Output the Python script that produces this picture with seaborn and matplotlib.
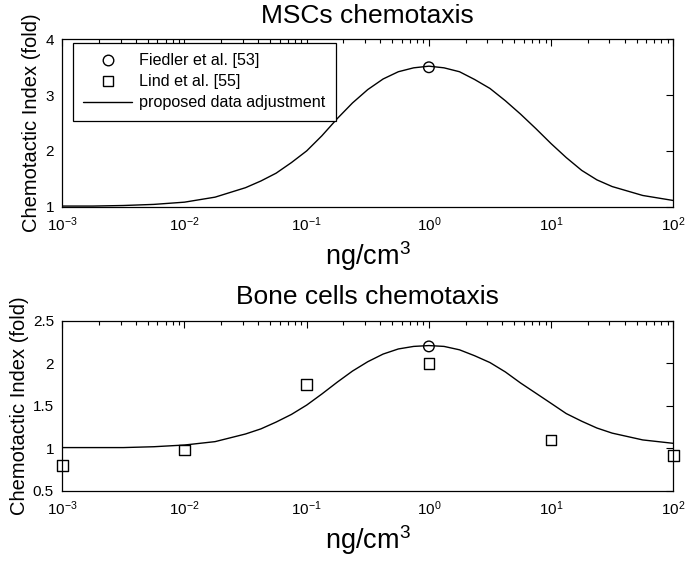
import matplotlib
matplotlib.use("Agg")
import matplotlib.pyplot as plt
import seaborn as sns
from matplotlib.lines import Line2D
from matplotlib.ticker import FormatStrFormatter, LogLocator

conc = [0.001, 0.00178, 0.00316, 0.00562, 0.01, 0.0178, 0.0316,
        0.0422, 0.0562, 0.075, 0.1, 0.133, 0.178, 0.237, 0.316,
        0.422, 0.562, 0.75, 1, 1.33, 1.78, 2.37, 3.16, 4.22,
        5.62, 7.5, 10, 13.3, 17.8, 23.7, 31.6, 56.2, 100]

# proposed data adjustment (fitted curves)
msc_fit = [1.01, 1.01, 1.02, 1.04, 1.08, 1.17, 1.34,
           1.46, 1.60, 1.79, 2.00, 2.27, 2.58, 2.86, 3.10,
           3.29, 3.42, 3.49, 3.52, 3.49, 3.42, 3.28, 3.12, 2.90,
           2.66, 2.40, 2.13, 1.88, 1.65, 1.48, 1.36, 1.20, 1.11]
bone_fit = [1.01, 1.01, 1.01, 1.02, 1.04, 1.08, 1.17,
            1.23, 1.31, 1.40, 1.51, 1.64, 1.78, 1.91, 2.02,
            2.11, 2.17, 2.20, 2.21, 2.20, 2.16, 2.09, 2.01, 1.90,
            1.77, 1.65, 1.53, 1.41, 1.32, 1.24, 1.18, 1.10, 1.06]

# measured points
fiedler_x = [1]
fiedler_msc = [3.5]
fiedler_bone = [2.2]
lind_x = [0.001, 0.01, 0.1, 1, 10, 100]
lind_bone = [0.8, 0.98, 1.75, 2.0, 1.1, 0.92]

titles = ["MSCs chemotaxis", "Bone cells chemotaxis"]
yticks_top = [1, 2, 3, 4]
yticks_bot = [0.5, 1, 1.5, 2, 2.5]
legend_labels = ["Fiedler et al. [53]", "Lind et al. [55]", "proposed data adjustment"]

sns.set_style("white")
plt.rcParams['font.family'] = ['Liberation Sans', 'DejaVu Sans']
plt.rcParams['mathtext.default'] = 'regular'
plt.rcParams['axes.unicode_minus'] = False
plt.rcParams['text.color'] = 'black'
plt.rcParams['axes.labelcolor'] = 'black'

fig = plt.figure(figsize=(6.92, 5.63), dpi=100)
ax1 = fig.add_axes([0.0900, 0.633, 0.883, 0.297])
ax2 = fig.add_axes([0.0900, 0.128, 0.883, 0.302])

def style_axes(ax, title, yticks):
    ax.set_xscale('log')
    ax.set_xlim(1e-3, 1e2)
    ax.set_ylim(yticks[0], yticks[-1])
    ax.set_yticks(yticks)
    ax.yaxis.set_major_formatter(FormatStrFormatter('%g'))
    ax.xaxis.set_major_locator(LogLocator(base=10, numticks=10))
    ax.xaxis.set_minor_locator(LogLocator(base=10, subs=range(2, 10), numticks=10))
    ax.tick_params(which='both', direction='in', top=True, right=True,
                   colors='black', labelsize=11)
    ax.tick_params(which='major', length=5, width=0.8, pad=6)
    ax.tick_params(which='minor', length=3, width=0.8)
    for s in ax.spines.values():
        s.set_color('black')
        s.set_linewidth(0.9)
    ax.set_title(title, fontsize=19, pad=12, color='black')
    ax.set_xlabel(r'$\mathdefault{ng/cm^3}$', fontsize=19.5, labelpad=4)
    ax.set_ylabel('Chemotactic Index (fold)', fontsize=14.5, labelpad=3)

# top panel
sns.lineplot(x=conc, y=msc_fit, ax=ax1, color='black', linewidth=1)
sns.scatterplot(x=fiedler_x, y=fiedler_msc, ax=ax1, marker='o', s=58,
                facecolors='none', edgecolor='black', linewidth=1, zorder=3)
style_axes(ax1, titles[0], yticks_top)

handles = [
    Line2D([], [], marker='o', ls='', mfc='none', mec='black', ms=7.6, mew=1),
    Line2D([], [], marker='s', ls='', mfc='none', mec='black', ms=7.3, mew=1),
    Line2D([], [], color='black', lw=1),
]
leg = ax1.legend(handles, legend_labels, loc='upper left', bbox_to_anchor=(0.0175, 0.979),
                 borderaxespad=0, fontsize=11.6, handlelength=3.0, handletextpad=0.45,
                 labelspacing=0.37, borderpad=0.65, fancybox=False, framealpha=1,
                 edgecolor='black', numpoints=1)
leg.get_frame().set_linewidth(0.9)

# bottom panel
sns.lineplot(x=conc, y=bone_fit, ax=ax2, color='black', linewidth=1)
sns.scatterplot(x=fiedler_x, y=fiedler_bone, ax=ax2, marker='o', s=58,
                facecolors='none', edgecolor='black', linewidth=1, zorder=3)
sns.scatterplot(x=lind_x, y=lind_bone, ax=ax2, marker='s', s=58,
                facecolors='none', edgecolor='black', linewidth=1, zorder=3,
                clip_on=False)
style_axes(ax2, titles[1], yticks_bot)

fig.savefig('out.png', dpi=100)
